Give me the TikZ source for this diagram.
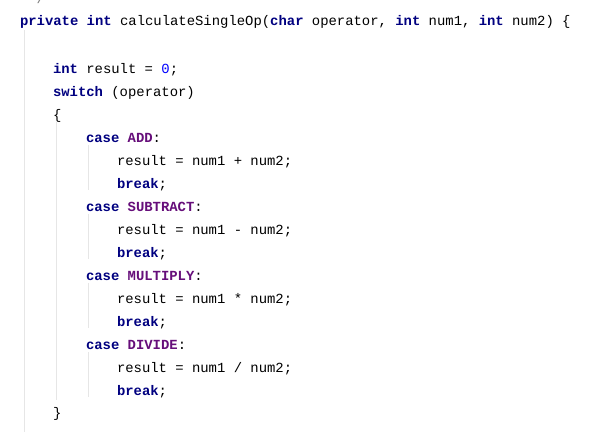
\documentclass[tikz,border=0pt]{standalone}
\usepackage{fontspec}
\setmonofont{Liberation Mono}
\usepackage{tikz}
\definecolor{kw}{HTML}{000080}
\definecolor{cst}{HTML}{660E7A}
\definecolor{num}{HTML}{0000FF}
\definecolor{guide}{HTML}{E6E6E6}
\newcommand{\kw}[1]{\textcolor{kw}{\bfseries #1}}
\newcommand{\cst}[1]{\textcolor{cst}{\bfseries #1}}
\tikzstyle{code}=[anchor=base west, inner sep=0pt, outer sep=0pt,
                  font=\ttfamily\fontsize{13.9bp}{16bp}\selectfont]
\tikzstyle{guideline}=[draw=guide, line width=1bp]
\begin{document}
\begin{tikzpicture}[x=1bp, y=-1bp]
     \useasboundingbox (0,0) rectangle (612,432);
     \fill[white] (0,0) rectangle (612,432);
     % indent guides
     \draw [guideline] (24,30) -- (24,432);
     \draw [guideline] (56,122) -- (56,400);
     \foreach \t in {145,214,283,352}
       \draw [guideline] (88,\t) -- (88,\t+45);
     % code lines
     \node (l0) at (28.3,3) [code] {\textcolor{gray}{*/}};
     \node (l1) at (20,25)  [code] {\kw{private int} calculateSingleOp(\kw{char} operator, \kw{int} num1, \kw{int} num2) \{};
     \node (l2) at (53,73)  [code] {\kw{int} result = \textcolor{num}{0};};
     \node (l3) at (53,96)  [code] {\kw{switch} (operator)};
     \node (l4) at (53,119) [code] {\{};
     \foreach \i/\c/\o [count=\n] in {0/ADD/+,1/SUBTRACT/-,2/MULTIPLY/*,3/DIVIDE/{\slash}} {
       \node (case\n) at (86,142+69*\i) [code] {\kw{case} \cst{\c}:};
       \node (res\n) at (117,165+69*\i) [code] {result = num1 \o{} num2;};
       \node (brk\n) at (117,188+69*\i) [code] {\kw{break};};
     }
     \node (l5) at (53,417) [code] {\}};
\end{tikzpicture}
\end{document}
